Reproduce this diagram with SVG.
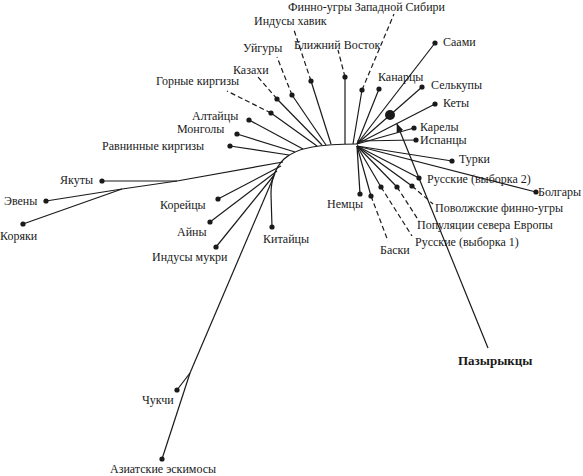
<svg xmlns="http://www.w3.org/2000/svg" width="583" height="476" viewBox="0 0 583 476">
<style>
text{font-family:"Liberation Serif","Times New Roman",serif;font-size:12px;fill:#1a1a1a}
.b{font-weight:bold;font-size:13px}
line,path{stroke:#1a1a1a;stroke-width:1.2;fill:none}
.d{stroke-dasharray:5,3}
circle{fill:#1a1a1a}
</style>
<defs>
<marker id="ah" viewBox="0 0 10 10" refX="9" refY="5" markerWidth="9" markerHeight="9" orient="auto" markerUnits="userSpaceOnUse">
<path d="M0,1 L10,5 L0,9 Z" style="fill:#1a1a1a;stroke:none"/>
</marker>
</defs>
<rect width="583" height="476" fill="#fff"/>
<g id="connectors">
<path d="M357,144 C322,144 297,147 284,159 C275,168 271,180 271,194 L272,227"/>
<line x1="283" y1="162" x2="177" y2="181"/>
<line x1="177" y1="181" x2="102" y2="181"/>
<line x1="177" y1="181" x2="122" y2="189"/>
<line x1="122" y1="189" x2="46" y2="201"/>
<line x1="122" y1="189" x2="23" y2="224"/>
<line x1="281" y1="166" x2="218" y2="199"/>
<line x1="277" y1="171" x2="210" y2="222"/>
<line x1="275" y1="174" x2="216" y2="247"/>
<line x1="274" y1="176" x2="190" y2="373"/>
<line x1="190" y1="373" x2="177" y2="390"/>
<line x1="190" y1="373" x2="162" y2="459"/>
<line x1="289" y1="155" x2="230" y2="146"/>
<line x1="295" y1="152" x2="237" y2="134"/>
<line x1="303" y1="149" x2="249" y2="120"/>
<line x1="317" y1="146" x2="271" y2="113"/>
<line x1="322" y1="145" x2="277" y2="99"/>
<line x1="326" y1="145" x2="292" y2="95"/>
<line x1="331" y1="144" x2="311" y2="81"/>
<line x1="345" y1="144" x2="345" y2="77"/>
<line x1="353" y1="144" x2="362" y2="90"/>
<line class="d" x1="271" y1="113" x2="227" y2="91"/>
<line class="d" x1="277" y1="99" x2="258" y2="77"/>
<line class="d" x1="292" y1="95" x2="277" y2="57"/>
<line class="d" x1="311" y1="81" x2="294" y2="30"/>
<line class="d" x1="345" y1="77" x2="338" y2="50"/>
<line class="d" x1="362" y1="90" x2="394" y2="14"/>
<line x1="357" y1="144" x2="379" y2="89"/>
<line x1="357" y1="144" x2="435" y2="43"/>
<line x1="357" y1="144" x2="422" y2="87"/>
<line x1="357" y1="144" x2="435" y2="104"/>
<line x1="357" y1="144" x2="414" y2="128"/>
<line x1="357" y1="141" x2="416" y2="140"/>
<line x1="357" y1="146" x2="452" y2="161"/>
<line x1="357" y1="146" x2="536" y2="192"/>
<line x1="357" y1="146" x2="419" y2="178"/>
<line x1="357" y1="146" x2="360" y2="194"/>
<line x1="357" y1="146" x2="371" y2="196"/>
<line x1="357" y1="146" x2="381" y2="187"/>
<line x1="357" y1="146" x2="397" y2="187"/>
<line x1="357" y1="146" x2="412" y2="186"/>
<line class="d" x1="371" y1="196" x2="388" y2="241"/>
<line class="d" x1="381" y1="187" x2="412" y2="236"/>
<line class="d" x1="397" y1="187" x2="419" y2="221"/>
<line class="d" x1="412" y1="186" x2="433" y2="204"/>
<line x1="488" y1="348" x2="397" y2="124" marker-end="url(#ah)"/>
</g>
<g id="n-finno-zs"><circle cx="362" cy="90" r="2.6"/><text x="288" y="11">Финно-угры Западной Сибири</text></g>
<g id="n-hindus-havik"><circle cx="311" cy="81" r="2.6"/><text x="254" y="25">Индусы хавик</text></g>
<g id="n-near-east"><circle cx="345" cy="77" r="2.6"/><text x="294" y="49">Ближний Восток</text></g>
<g id="n-uighurs"><circle cx="292" cy="95" r="2.6"/><text x="243" y="52">Уйгуры</text></g>
<g id="n-kazakhs"><circle cx="277" cy="99" r="2.6"/><text x="233" y="74">Казахи</text></g>
<g id="n-mountain-kyrgyz"><circle cx="271" cy="113" r="2.6"/><text x="156" y="85">Горные киргизы</text></g>
<g id="n-altai"><circle cx="249" cy="120" r="2.6"/><text x="192" y="120">Алтайцы</text></g>
<g id="n-mongols"><circle cx="237" cy="134" r="2.6"/><text x="177" y="133">Монголы</text></g>
<g id="n-plain-kyrgyz"><circle cx="230" cy="146" r="2.6"/><text x="102" y="150">Равнинные киргизы</text></g>
<g id="n-yakuts"><circle cx="102" cy="181" r="2.6"/><text x="60" y="184">Якуты</text></g>
<g id="n-evens"><circle cx="46" cy="201" r="2.6"/><text x="4" y="205">Эвены</text></g>
<g id="n-koryaks"><circle cx="23" cy="224" r="2.6"/><text x="0" y="240">Коряки</text></g>
<g id="n-koreans"><circle cx="218" cy="199" r="2.6"/><text x="160" y="209">Корейцы</text></g>
<g id="n-ainu"><circle cx="210" cy="222" r="2.6"/><text x="177" y="236">Айны</text></g>
<g id="n-hindus-mukri"><circle cx="216" cy="247" r="2.6"/><text x="152" y="261">Индусы мукри</text></g>
<g id="n-chinese"><circle cx="272" cy="227" r="2.6"/><text x="263" y="243">Китайцы</text></g>
<g id="n-chukchi"><circle cx="177" cy="390" r="2.6"/><text x="142" y="404">Чукчи</text></g>
<g id="n-eskimos"><circle cx="162" cy="459" r="2.6"/><text x="110" y="473">Азиатские эскимосы</text></g>
<g id="n-saami"><circle cx="435" cy="43" r="2.6"/><text x="443" y="46">Саами</text></g>
<g id="n-canary"><circle cx="379" cy="89" r="2.6"/><text x="378" y="81">Канарцы</text></g>
<g id="n-selkups"><circle cx="422" cy="87" r="2.6"/><text x="431" y="89">Селькупы</text></g>
<g id="n-kets"><circle cx="435" cy="104" r="2.6"/><text x="443" y="107">Кеты</text></g>
<g id="n-big"><circle cx="390" cy="115" r="5"/></g>
<g id="n-karels"><circle cx="414" cy="128" r="2.6"/><text x="420" y="131">Карелы</text></g>
<g id="n-spanish"><circle cx="416" cy="140" r="2.6"/><text x="420" y="144">Испанцы</text></g>
<g id="n-turks"><circle cx="452" cy="161" r="2.6"/><text x="459" y="163">Турки</text></g>
<g id="n-russians2"><circle cx="419" cy="178" r="2.6"/><text x="427" y="183">Русские (выборка 2)</text></g>
<g id="n-bulgarians"><circle cx="536" cy="192" r="2.6"/><text x="538" y="196">Болгары</text></g>
<g id="n-germans"><circle cx="360" cy="194" r="2.6"/><text x="327" y="208">Немцы</text></g>
<g id="n-volga"><circle cx="412" cy="186" r="2.6"/><text x="435" y="212">Поволжские финно-угры</text></g>
<g id="n-north-europe"><circle cx="397" cy="187" r="2.6"/><text x="417" y="229">Популяции севера Европы</text></g>
<g id="n-russians1"><circle cx="381" cy="187" r="2.6"/><text x="415" y="246">Русские (выборка 1)</text></g>
<g id="n-basques"><circle cx="371" cy="196" r="2.6"/><text x="380" y="254">Баски</text></g>
<g id="n-pazyryk"><text class="b" x="458" y="365">Пазырыкцы</text></g>
</svg>
